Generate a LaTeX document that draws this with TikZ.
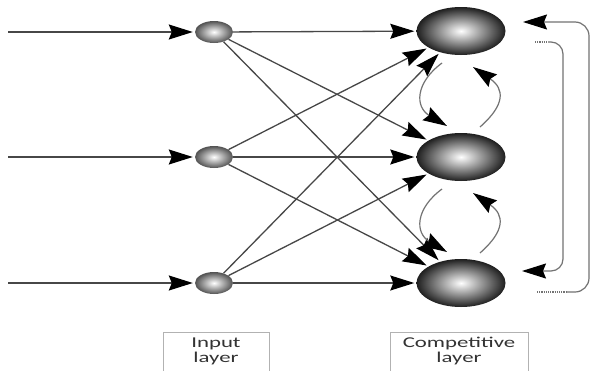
\documentclass[tikz,border=0pt]{standalone}
\usepackage{fontspec}
\setmainfont{Carlito}
\usetikzlibrary{arrows.meta,calc,shapes.geometric}
\begin{document}
\begin{tikzpicture}[x=1pt,y=-1pt,
  tip/.style={-{Stealth[length=24pt,width=15pt,inset=3pt,color=black]}},
  conn/.style={draw=black!72, line width=1.3pt, tip, shorten >=2pt},
  innode/.style={ellipse, minimum width=38pt, minimum height=22pt, inner sep=0pt, shade, inner color=white, outer color=black!68},
  compnode/.style={ellipse, minimum width=89pt, minimum height=48pt, inner sep=0pt, shade, inner color=white, outer color=black!88},
  lat/.style={draw=black!55, line width=1.2pt, tip},
  fb/.style={draw=black!55, line width=1.2pt},
  lbl/.style={draw=black!30, line width=0.6pt, anchor=north, minimum height=40pt, text=black!80, align=center, inner sep=0pt,
    font=\fontsize{15}{14.5}\selectfont}
]
\clip (0,0) rectangle (595,370);
\fill[white] (0,0) rectangle (595,370);

% input layer
\node[innode] (i1) at (214,32) {};
\node[innode] (i2) at (214,157) {};
\node[innode] (i3) at (214,283) {};
% competitive layer
\node[compnode] (c1) at (461,31) {};
\node[compnode] (c2) at (461,157) {};
\node[compnode] (c3) at (461,283) {};

% inputs
\coordinate (s1) at (8,32);
\coordinate (s2) at (8,157);
\coordinate (s3) at (8,283);
\draw[conn] (s1) -- (i1);
\draw[conn] (s2) -- (i2);
\draw[conn] (s3) -- (i3);

% full connections
\foreach \a in {i1,i2,i3}{
  \foreach \b in {c1,c2,c3}{
    \draw[conn] (\a) -- (\b);
  }
}

% lateral connections
\draw[lat] ($(c1.center)+(-19,32)$) .. controls ($(c1.center)+(-46,52)$) and ($(c2.center)+(-46,-50)$) .. ($(c2.center)+(-14,-31)$);
\draw[lat] ($(c2.center)+(19,-30)$) .. controls ($(c2.center)+(44,-52)$) and ($(c1.center)+(44,58)$) .. ($(c1.center)+(12,36)$);
\draw[lat] ($(c2.center)+(-19,32)$) .. controls ($(c2.center)+(-46,52)$) and ($(c3.center)+(-46,-50)$) .. ($(c3.center)+(-14,-31)$);
\draw[lat] ($(c3.center)+(19,-30)$) .. controls ($(c3.center)+(44,-52)$) and ($(c2.center)+(44,58)$) .. ($(c2.center)+(12,36)$);

% feedback loops
\coordinate (fo1) at (537,292);
\coordinate (fo1b) at (566,292);
\coordinate (fo2) at (589,22);
\coordinate (ft1) at (523,22);
\draw[fb, densely dotted] (fo1) -- (fo1b);
\draw[fb, rounded corners=14pt, tip] (fo1b) -| (fo2) -- (ft1);

\coordinate (fi1) at (535,42);
\coordinate (fi1b) at (548,42);
\coordinate (fi2) at (563,271);
\coordinate (ft3) at (522,271);
\draw[fb, densely dotted] (fi1) -- (fi1b);
\draw[fb, rounded corners=12pt, tip] (fi1b) -| (fi2) -- (ft3);

% labels
\node[lbl, minimum width=106pt] (l1) at (216,332) {\scalebox{1.52}[1]{\begin{tabular}{@{}c@{}}Input\\layer\end{tabular}}};
\node[lbl, minimum width=138pt] (l2) at (459,332) {\scalebox{1.52}[1]{\begin{tabular}{@{}c@{}}Competitive\\layer\end{tabular}}};
\end{tikzpicture}
\end{document}
